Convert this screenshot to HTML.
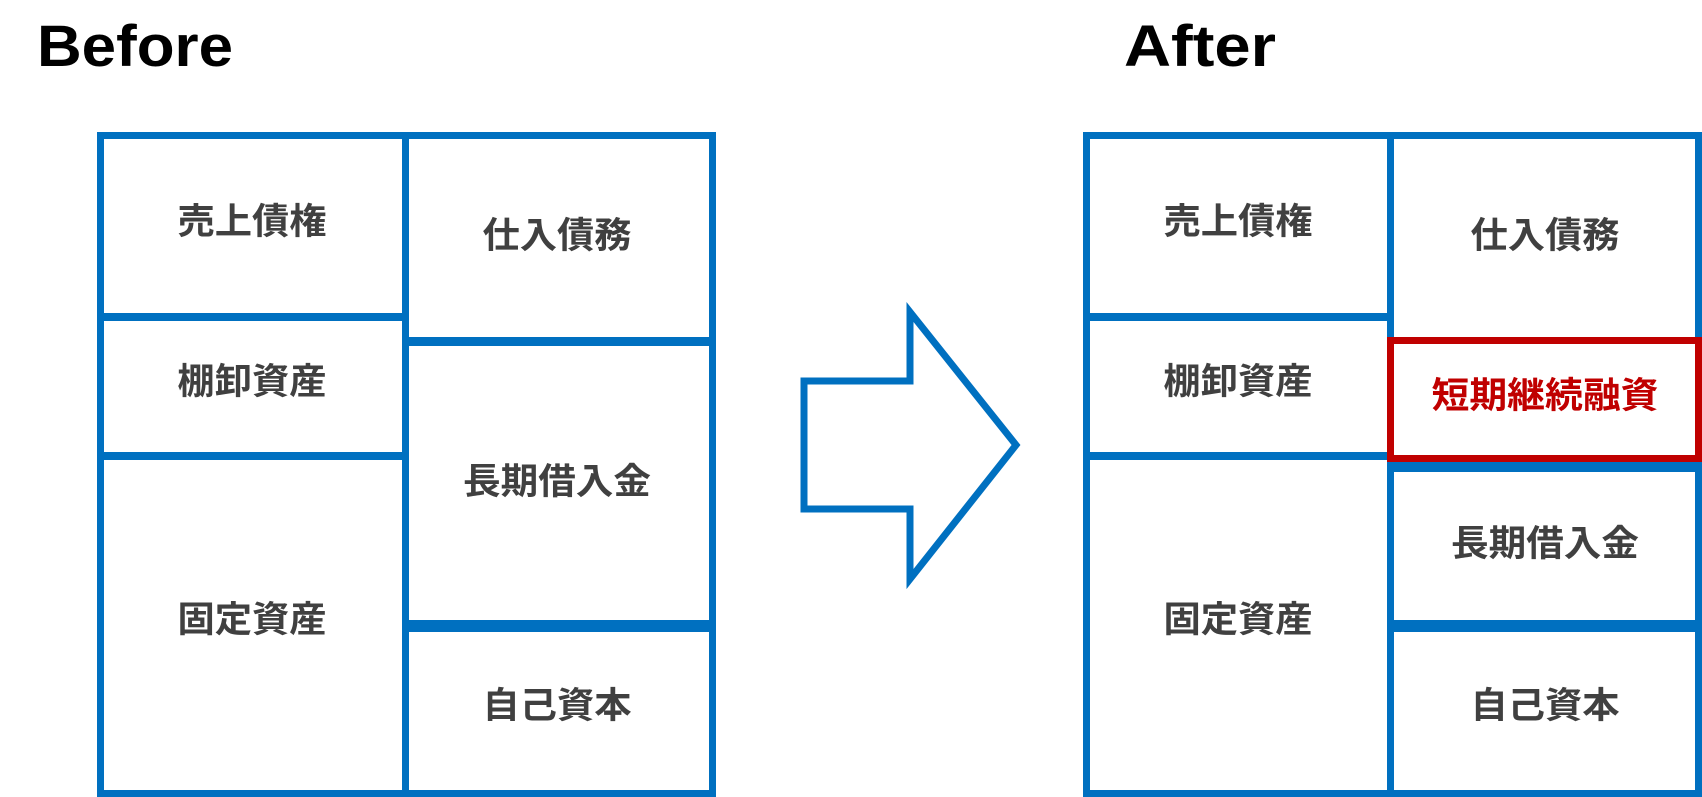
<!DOCTYPE html>
<html><head><meta charset="utf-8"><style>
html,body{margin:0;padding:0;background:#fff;}
svg{display:block}
text{font-family:"Liberation Sans","Noto Sans CJK JP",sans-serif;font-weight:bold;}
.l{fill:#404040;font-size:36px;text-anchor:middle;dominant-baseline:central;}
</style></head><body>
<svg width="1702" height="797" viewBox="0 0 1702 797">
<text x="37" y="66" font-size="58" fill="#000" textLength="196" lengthAdjust="spacingAndGlyphs">Before</text>
<text x="1124" y="66" font-size="58" fill="#000" textLength="152" lengthAdjust="spacingAndGlyphs">After</text>
<g fill="#0070C0">
<rect x="97" y="132" width="619" height="7"/>
<rect x="97" y="790" width="619" height="7"/>
<rect x="97" y="132" width="7" height="665"/>
<rect x="709" y="132" width="7" height="665"/>
<rect x="402" y="132" width="7" height="665"/>
<rect x="97" y="313" width="310" height="8"/>
<rect x="97" y="452" width="310" height="8"/>
<rect x="405" y="337" width="310" height="9"/>
<rect x="405" y="620" width="310" height="12"/>
<rect x="1083" y="132" width="619" height="7"/>
<rect x="1083" y="790" width="619" height="7"/>
<rect x="1083" y="132" width="7" height="665"/>
<rect x="1695" y="132" width="7" height="665"/>
<rect x="1387" y="132" width="7" height="665"/>
<rect x="1083" y="313" width="310" height="8"/>
<rect x="1083" y="452" width="310" height="8"/>
<rect x="1390" y="462" width="312" height="10"/>
<rect x="1390" y="620" width="312" height="12"/>
</g>
<rect x="1390.5" y="340.5" width="308" height="118" fill="#fff" stroke="#C00000" stroke-width="7"/>
<polygon points="804,381 910,381 910,312 1016,445 910,579 910,509 804,509" fill="#fff" stroke="#0070C0" stroke-width="7"/>
<g class="l">
<text class="l" x="252" y="221" textLength="149" lengthAdjust="spacingAndGlyphs">売上債権</text>
<text class="l" x="557" y="235" textLength="149" lengthAdjust="spacingAndGlyphs">仕入債務</text>
<text class="l" x="252" y="381" textLength="149" lengthAdjust="spacingAndGlyphs">棚卸資産</text>
<text class="l" x="557" y="481" textLength="188" lengthAdjust="spacingAndGlyphs">長期借入金</text>
<text class="l" x="252" y="619" textLength="149" lengthAdjust="spacingAndGlyphs">固定資産</text>
<text class="l" x="557" y="705" textLength="149" lengthAdjust="spacingAndGlyphs">自己資本</text>
<text class="l" x="1238" y="221" textLength="149" lengthAdjust="spacingAndGlyphs">売上債権</text>
<text class="l" x="1545" y="235" textLength="149" lengthAdjust="spacingAndGlyphs">仕入債務</text>
<text class="l" x="1238" y="381" textLength="149" lengthAdjust="spacingAndGlyphs">棚卸資産</text>
<text class="l" x="1545" y="395" textLength="227" lengthAdjust="spacingAndGlyphs" style="fill:#C00000">短期継続融資</text>
<text class="l" x="1545" y="543" textLength="188" lengthAdjust="spacingAndGlyphs">長期借入金</text>
<text class="l" x="1238" y="619" textLength="149" lengthAdjust="spacingAndGlyphs">固定資産</text>
<text class="l" x="1545" y="705" textLength="149" lengthAdjust="spacingAndGlyphs">自己資本</text>
</g>
</svg>
</body></html>
